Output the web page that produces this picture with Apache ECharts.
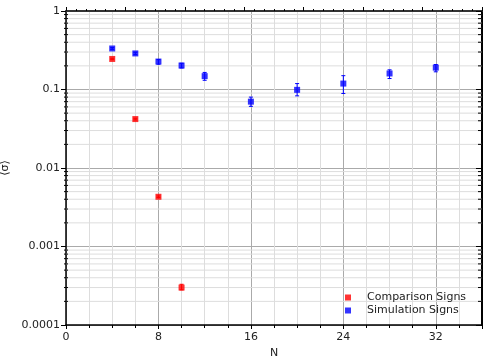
<!DOCTYPE html>
<html>
<head>
<meta charset="utf-8">
<script src="https://cdn.jsdelivr.net/npm/echarts@6/dist/echarts.min.js"></script>
<style>html,body{margin:0;padding:0;background:#fff;}#c{width:485px;height:358px;}</style>
</head>
<body>
<div id="c"></div>
<script>
// Data
var compN = [4, 6, 8, 10];
var compMean = [0.245, 0.042, 0.0043, 0.00030];
var compLow = [0.24, 0.041, 0.0042, 0.00028];
var compHigh = [0.25, 0.043, 0.0044, 0.00033];

var simN = [4, 6, 8, 10, 12, 16, 20, 24, 28, 32];
var simMean = [0.333, 0.288, 0.227, 0.202, 0.148, 0.070, 0.099, 0.119, 0.160, 0.190];
var simLow = [0.325, 0.278, 0.210, 0.188, 0.131, 0.061, 0.083, 0.089, 0.138, 0.168];
var simHigh = [0.342, 0.298, 0.240, 0.216, 0.165, 0.080, 0.119, 0.150, 0.178, 0.208];

var yTicks = [0.0001, 0.001, 0.01, 0.1, 1];
var xTicks = [0, 8, 16, 24, 32];

// minor log values 2..9 per decade
var minorVals = [];
for (var d = 0; d < yTicks.length - 1; d++) {
  for (var k = 2; k <= 9; k++) minorVals.push(Number((yTicks[d] * k).toPrecision(2)));
}

var FONT = 'DejaVu Sans';
var chart = echarts.init(document.getElementById('c'));

function errSeries(name, xs, lo, hi, color) {
  return {
    type: 'custom', name: name, z: 4, silent: true,
    xAxisIndex: 0, yAxisIndex: 0,
    itemStyle: { color: color },
    data: xs.map(function (x, i) { return [x, lo[i], hi[i]]; }),
    renderItem: function (params, api) {
      var p1 = api.coord([api.value(0), api.value(1)]);
      var p2 = api.coord([api.value(0), api.value(2)]);
      var w = 2;
      var st = { stroke: color, lineWidth: 1 };
      return { type: 'group', children: [
        { type: 'line', shape: { x1: p1[0], y1: p1[1], x2: p2[0], y2: p2[1] }, style: st },
        { type: 'line', shape: { x1: p1[0] - w, y1: p1[1], x2: p1[0] + w, y2: p1[1] }, style: st },
        { type: 'line', shape: { x1: p2[0] - w, y1: p2[1], x2: p2[0] + w, y2: p2[1] }, style: st }
      ]};
    }
  };
}

var option = {
  backgroundColor: '#fff',
  animation: false,
  grid: { left: 66, right: 3, top: 11, bottom: 33, containLabel: false, outerBoundsMode: 'none' },
  legend: {
    orient: 'vertical', left: 340, top: 287,
    itemWidth: 6, itemHeight: 6, itemGap: 2,
    icon: 'rect',
    data: ['Comparison Signs', 'Simulation Signs'],
    textStyle: { fontFamily: FONT, fontSize: 11, color: '#222', padding: [0, 0, 0, 11] }
  },
  xAxis: [{
    type: 'value', min: 0, max: 36, interval: 8,
    name: 'N', nameLocation: 'middle', nameGap: 21,
    nameTextStyle: { fontFamily: FONT, fontSize: 11, color: '#222' },
    axisLine: { onZero: false, lineStyle: { color: '#000', width: 1.5 } },
    axisTick: { show: true, length: 4, inside: false, lineStyle: { color: '#000' } },
    minorTick: { show: true, splitNumber: 4, length: 3, lineStyle: { color: '#000' } },
    axisLabel: { fontFamily: FONT, fontSize: 11, color: '#222', margin: 7,
      formatter: function (v) { return xTicks.indexOf(v) >= 0 ? String(v) : ''; } },
    splitLine: { show: true, lineStyle: { color: '#aaa', width: 1 } },
    minorSplitLine: { show: true, lineStyle: { color: '#ddd', width: 1 } }
  }, {
    type: 'value', position: 'top', min: 0, max: 7, interval: 1,
    axisLine: { onZero: false, lineStyle: { color: '#333', width: 2 } },
    axisTick: { show: true, length: 4, lineStyle: { color: '#000' } },
    minorTick: { show: true, splitNumber: 6, length: 2, lineStyle: { color: '#000' } },
    axisLabel: { show: false }, splitLine: { show: false }
  }],
  yAxis: [{
    type: 'log', logBase: 10, min: 0.0001, max: 1,
    name: '\u27E8\u03C3\u27E9', nameLocation: 'middle', nameGap: 51, nameRotate: 90,
    nameTextStyle: { fontFamily: FONT, fontSize: 11, color: '#222' },
    axisLine: { onZero: false, lineStyle: { color: '#000', width: 1.5 } },
    axisTick: { show: true, length: 5, lineStyle: { color: '#000' } },
    axisLabel: { fontFamily: FONT, fontSize: 11, color: '#222', margin: 6,
      formatter: function (v) { return String(Number(Number(v).toPrecision(1))); } },
    splitLine: { show: true, lineStyle: { color: '#aaa', width: 1 } }
  }, {
    type: 'log', logBase: 10, min: 0.0001, max: 1, position: 'right',
    axisLine: { onZero: false, lineStyle: { color: '#000', width: 2 } },
    axisTick: { show: true, inside: true, length: 6, lineStyle: { color: '#000' } },
    axisLabel: { show: false }, splitLine: { show: false }
  }],
  series: [
    {
      type: 'custom', name: 'minorgrid', silent: true, z: 1,
      xAxisIndex: 0, yAxisIndex: 0,
      data: minorVals.map(function (v) { return [0, v]; }),
      renderItem: function (params, api) {
        var a = api.coord([0, api.value(1)]);
        var b = api.coord([36, api.value(1)]);
        return { type: 'group', children: [
          { type: 'line', shape: { x1: a[0], y1: a[1], x2: b[0], y2: b[1] }, style: { stroke: '#ddd', lineWidth: 1 } },
          { type: 'line', shape: { x1: a[0] - 2, y1: a[1], x2: a[0] + 2, y2: a[1] }, style: { stroke: '#000', lineWidth: 1 } },
          { type: 'line', shape: { x1: b[0] - 4, y1: b[1], x2: b[0], y2: b[1] }, style: { stroke: '#000', lineWidth: 1 } }
        ]};
      }
    },
    errSeries('compErr', compN, compLow, compHigh, '#ff0000'),
    errSeries('simErr', simN, simLow, simHigh, '#0000ff'),
    {
      type: 'scatter', name: 'Comparison Signs', symbol: 'rect', symbolSize: 6, z: 5,
      itemStyle: { color: '#ff0000' },
      data: compN.map(function (x, i) { return [x, compMean[i]]; })
    },
    {
      type: 'scatter', name: 'Simulation Signs', symbol: 'rect', symbolSize: 6, z: 5,
      itemStyle: { color: '#0000ff' },
      data: simN.map(function (x, i) { return [x, simMean[i]]; })
    }
  ]
};
chart.setOption(option);
</script>
</body>
</html>
